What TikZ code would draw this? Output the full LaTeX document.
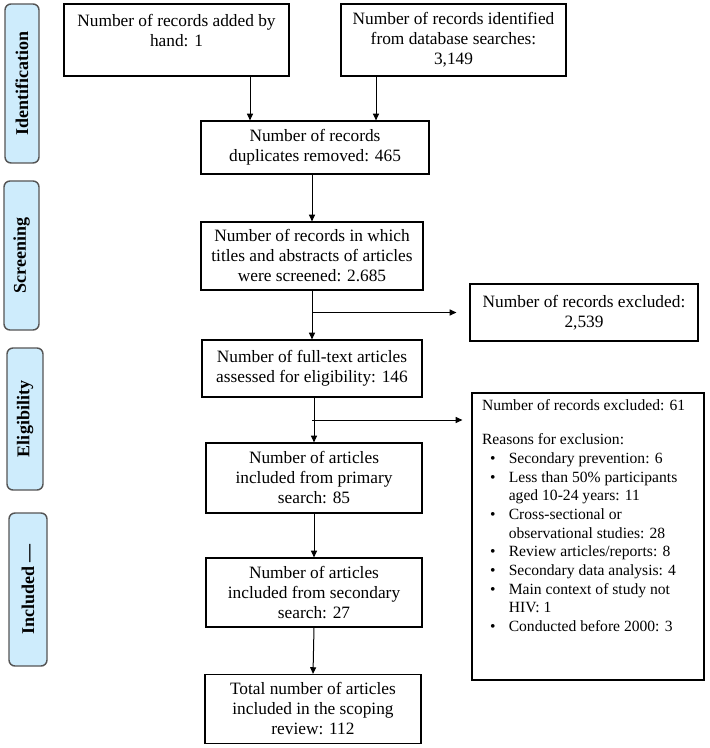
\documentclass[tikz,border=0pt]{standalone}
\usepackage{fontspec}
\setmainfont{Liberation Serif}
\usetikzlibrary{arrows.meta}
\definecolor{stagefill}{RGB}{206,236,252}
\definecolor{stageline}{RGB}{85,85,85}
\tikzset{
  flowbox/.style={draw=black, line width=0.9pt, align=center, inner sep=0pt,
    font=\fontsize{13}{15}\selectfont},
  listbox/.style={draw=black, line width=0.9pt, inner sep=0pt,
    font=\fontsize{11.7}{14}\selectfont},
  stagebox/.style={draw=stageline, fill=stagefill, line width=1.1pt, rounded corners=4.5pt,
    rotate=90, inner sep=0pt, font=\fontsize{13.5}{15}\selectfont\bfseries},
  arr/.style={line width=0.75pt, -{Triangle[length=5pt,width=4.5pt]}}
}

\begin{document}
\begin{tikzpicture}[x=0.75pt, y=-0.75pt]
			%%%%% START %%%%%
			\useasboundingbox (0,0) rectangle (709,748);
			
			% stages
			\node[stagebox, minimum width=119.25pt, minimum height=25.5pt] (sid) at (22,83.5) {Identification};
			\node[stagebox, minimum width=111.75pt, minimum height=26.25pt] (sscr) at (21.5,255.5) {Screening};
			\node[stagebox, minimum width=106.5pt, minimum height=27pt] (selig) at (25,419) {Eligibility};
			\node[stagebox, minimum width=114.75pt, minimum height=28.5pt] (sincl) at (28,589.5) {Included —};
			
			% boxes
			\node[flowbox, minimum width=168.75pt, minimum height=54pt] (id1) at (176.5,40) {Number of records added by\\hand: 1\\\mbox{}};
			\node[flowbox, minimum width=168.75pt, minimum height=54pt] (id2) at (453.5,40) {Number of records identified\\from database searches:\\3,149};
			\node[flowbox, minimum width=171pt, minimum height=39.75pt] (dup) at (315,147.5) {Number of records\\duplicates removed: 465};
			\node[flowbox, minimum width=166.5pt, minimum height=51pt] (scr) at (312,256) {Number of records in which\\titles and abstracts of articles\\were screened: 2.685};
			\node[flowbox, minimum width=171pt, minimum height=42.75pt] (exc1) at (584,312.5) {Number of records excluded:\\2,539};
			\node[flowbox, minimum width=165pt, minimum height=42.75pt] (full) at (312,368.5) {Number of full-text articles\\assessed for eligibility: 146};
			\node[flowbox, minimum width=162pt, minimum height=52.5pt] (prim) at (314,478) {Number of articles\\included from primary\\search: 85};
			\node[flowbox, minimum width=162pt, minimum height=51.75pt] (sec) at (314,592.5) {Number of articles\\included from secondary\\search: 27};
			\node[flowbox, minimum width=162pt, minimum height=51.75pt] (tot) at (313,709) {Total number of articles\\included in the scoping\\review: 112};
			
			\node[listbox, minimum width=174pt, minimum height=215.25pt] (exc2) at (588,536.5) {\parbox[c][209pt][t]{159pt}{%
			    \begin{tabular}[t]{@{\hspace{6pt}}c@{\hspace{10pt}}l@{}}
			      \multicolumn{2}{@{}l@{}}{Number of records excluded: 61}\\[12pt]
			      \multicolumn{2}{@{}l@{}}{Reasons for exclusion:}\\
			      \textbullet & Secondary prevention: 6\\
			      \textbullet & Less than 50\% participants\\
			                  & aged 10-24 years: 11\\
			      \textbullet & Cross-sectional or\\
			                  & observational studies: 28\\
			      \textbullet & Review articles/reports: 8\\
			      \textbullet & Secondary data analysis: 4\\
			      \textbullet & Main context of study not\\
			                  & HIV: 1\\
			      \textbullet & Conducted before 2000: 3
			    \end{tabular}}};
			
			% arrows
			\coordinate (c1) at (250,0);
			\coordinate (c2) at (376,0);
			\coordinate (b2) at (0,420);
			\draw[arr] (id1.south -| c1) -- (dup.north -| c1);
			\draw[arr] (id2.south -| c2) -- (dup.north -| c2);
			\draw[arr] (dup.south -| scr.north) -- (scr.north);
			\draw[arr] (scr.south) -- (full.north);
			\draw[arr, shorten >=9.75pt] (scr.south |- exc1.west) -- (exc1.west);
			\draw[arr] (full.south -| prim.north) -- (prim.north);
			\draw[arr, shorten >=6.75pt] (full.south |- b2) -- (exc2.west |- b2);
			\draw[arr] (prim.south) -- (sec.north);
			\draw[arr] (sec.south) -- (tot.north);
			
			%%%%% END %%%%%
\end{tikzpicture}
\end{document}
